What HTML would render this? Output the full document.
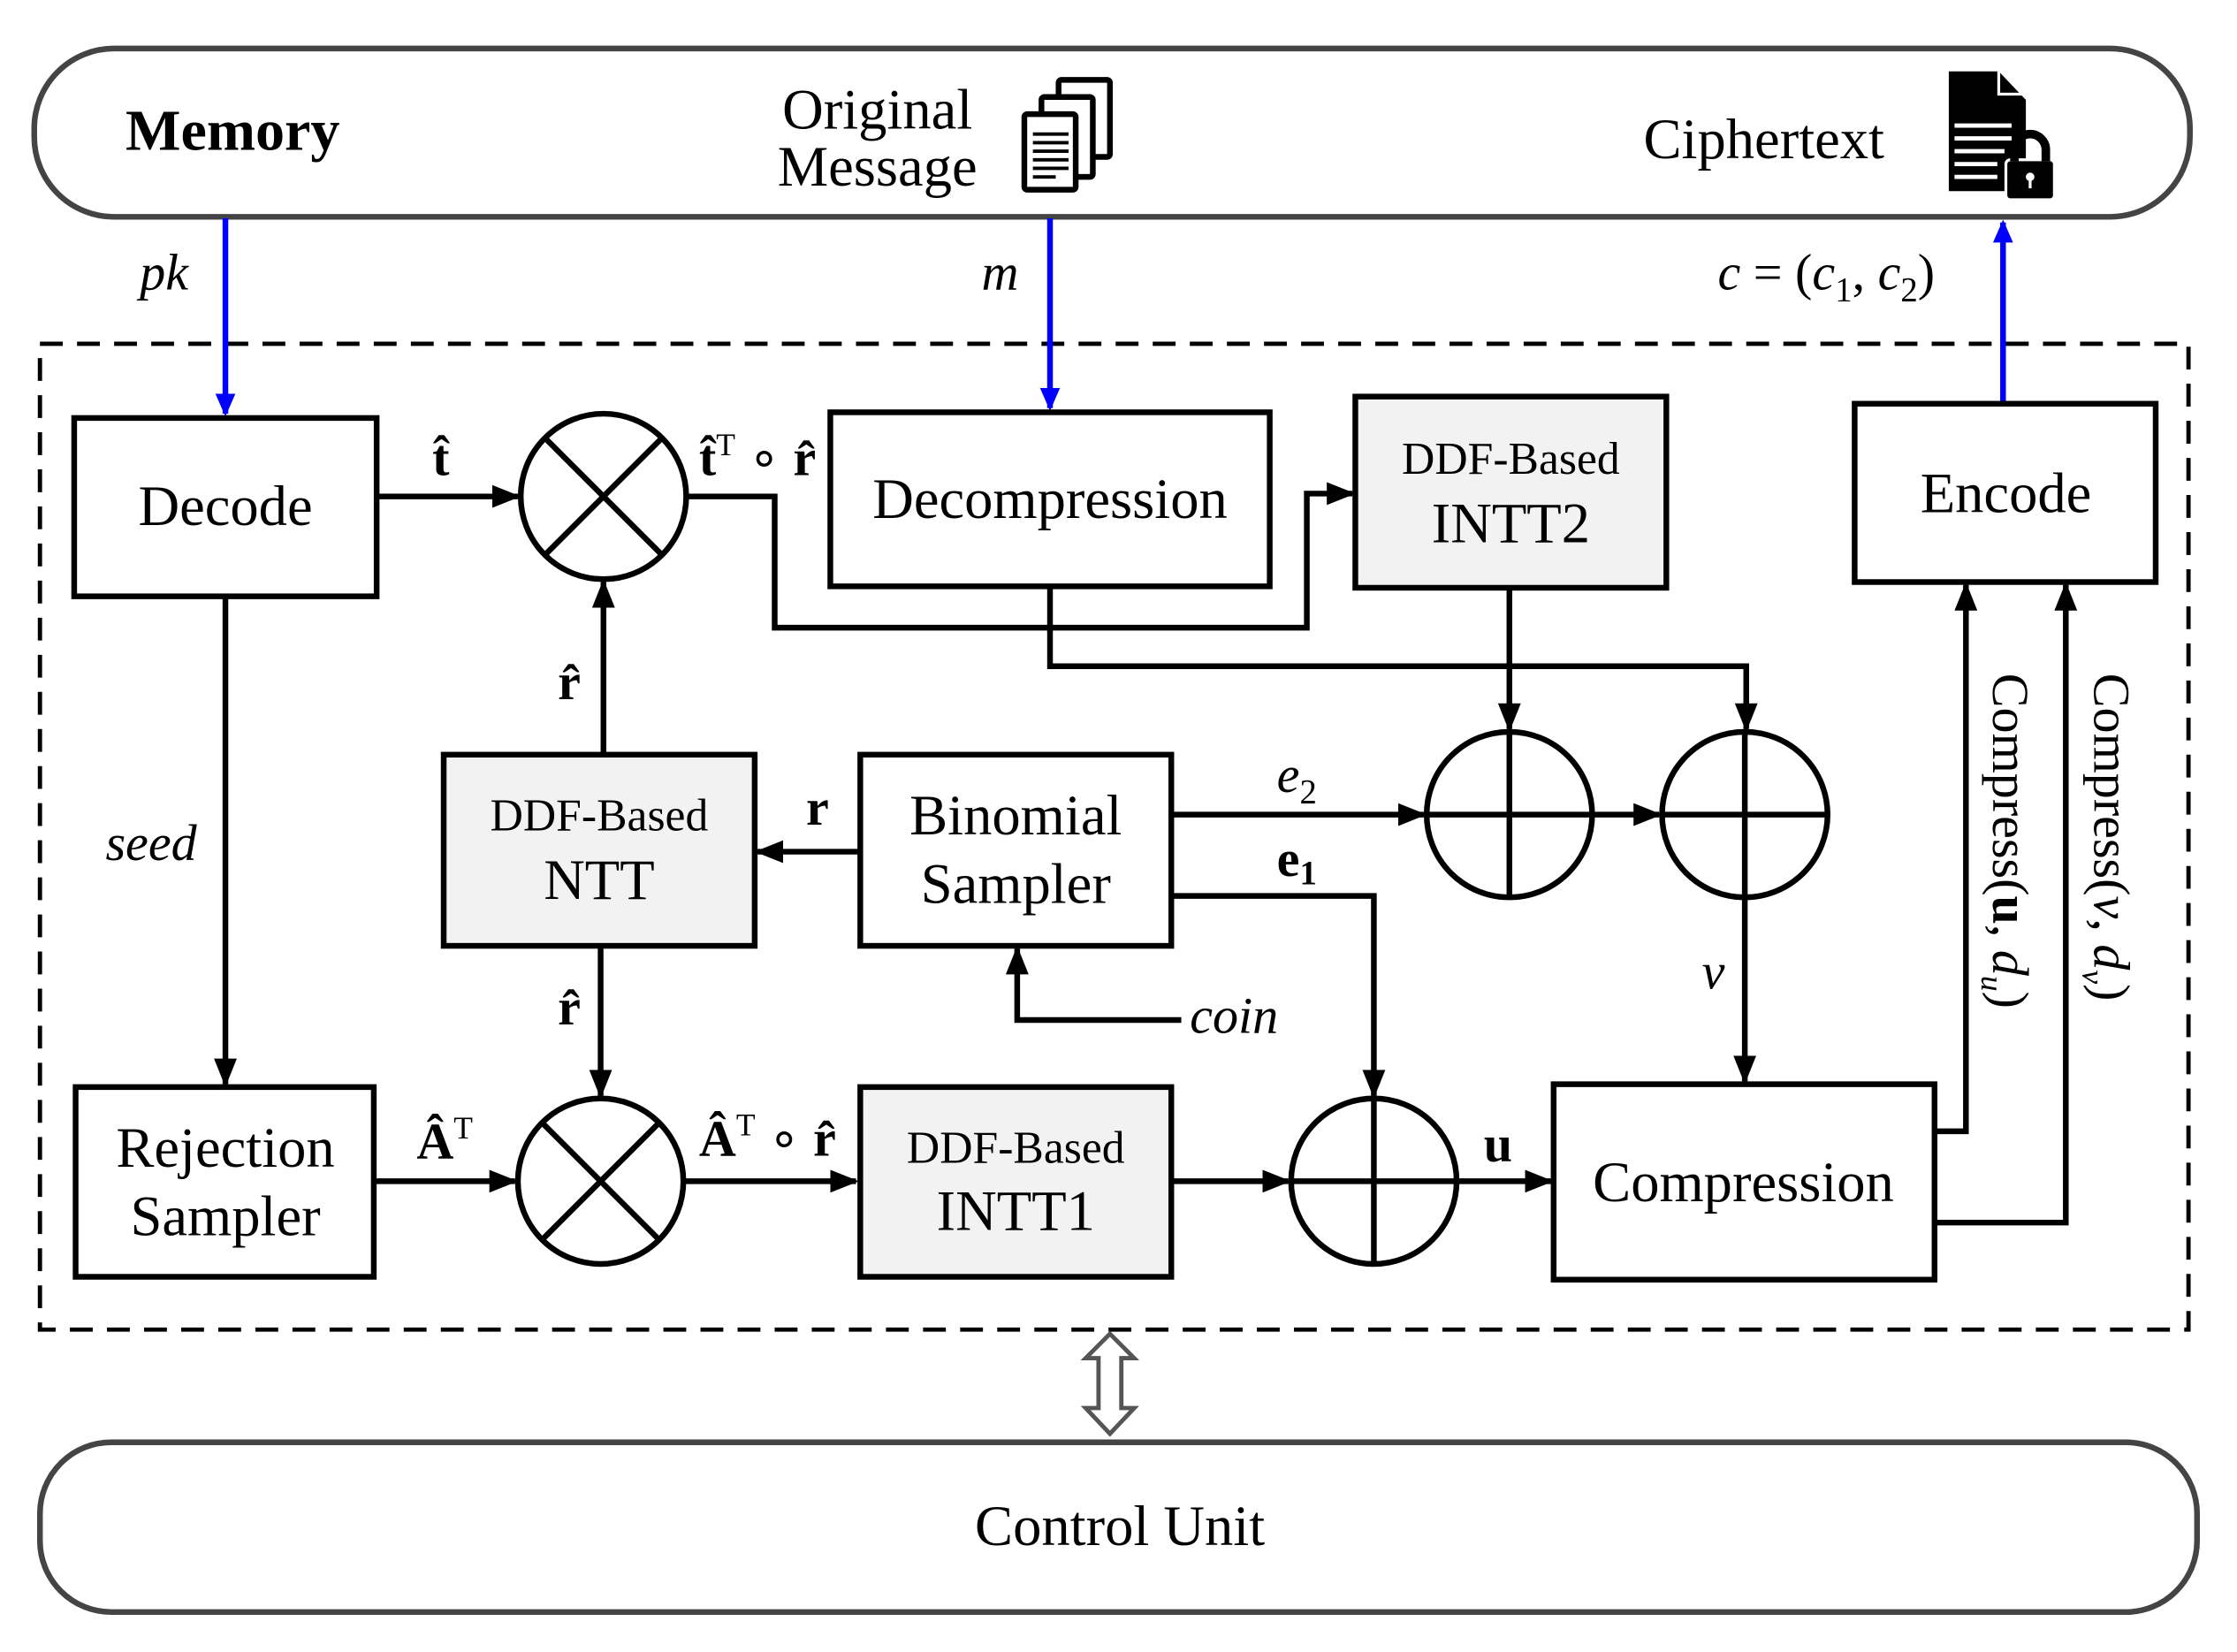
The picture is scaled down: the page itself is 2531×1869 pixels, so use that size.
<!DOCTYPE html>
<html><head><meta charset="utf-8"><style>
html,body{margin:0;padding:0;background:#fff;}
svg{display:block;}
text{font-family:"Liberation Serif",serif;fill:#000;}
</style></head><body>
<svg width="2531" height="1869" viewBox="0 0 1568 1158" preserveAspectRatio="none" xmlns="http://www.w3.org/2000/svg">
<defs>
<marker id="ab" markerWidth="16" markerHeight="16" refX="14" refY="8" orient="auto" markerUnits="userSpaceOnUse" viewBox="0 0 16 16"><path d="M0,1 L16,8 L0,15 z" fill="#00f"/></marker>
<marker id="ak" markerWidth="20" markerHeight="20" refX="18" refY="10" orient="auto" markerUnits="userSpaceOnUse" viewBox="0 0 20 20"><path d="M0,2 L20,10 L0,18 z" fill="#000"/></marker>
</defs>
<rect x="24" y="34" width="1511" height="118" rx="56" fill="#fff" stroke="#444" stroke-width="4"/>
<text x="88" y="105" font-size="41" font-weight="bold">Memory</text>
<text x="615" y="90" font-size="40" text-anchor="middle">Original</text>
<text x="615" y="130" font-size="40" text-anchor="middle">Message</text>
<g fill="#fff" stroke="#000" stroke-width="4">
<rect x="742" y="56" width="36" height="54" rx="2"/>
<rect x="730" y="68" width="36" height="56" rx="2"/>
<rect x="718" y="80" width="36" height="53" rx="2"/>
</g>
<g stroke="#000" stroke-width="2.4">
<line x1="724" y1="94" x2="749" y2="94"/><line x1="724" y1="100" x2="749" y2="100"/><line x1="724" y1="106" x2="749" y2="106"/><line x1="724" y1="112" x2="749" y2="112"/><line x1="724" y1="118" x2="749" y2="118"/><line x1="724" y1="124" x2="740" y2="124"/>
</g>
<text x="1152" y="111" font-size="40">Ciphertext</text>
<path d="M1366,50 L1401,50 L1420,70 L1420,134 L1366,134 z" fill="#000"/>
<path d="M1401,50 L1401,66 L1420,66" fill="none" stroke="#fff" stroke-width="2"/>
<g stroke="#fff" stroke-width="3"><line x1="1370" y1="97" x2="1410" y2="97"/><line x1="1370" y1="106" x2="1405" y2="106"/><line x1="1370" y1="115" x2="1400" y2="115"/><line x1="1370" y1="124" x2="1400" y2="124"/><line x1="1370" y1="88" x2="1410" y2="88"/></g>
<rect x="1406" y="112" width="34" height="28" rx="3" fill="#000" stroke="#fff" stroke-width="2"/>
<path d="M1412,113 v-8 a11,11 0 0 1 22,0 v8" fill="none" stroke="#000" stroke-width="6"/>
<circle cx="1423" cy="124" r="3" fill="#fff"/><rect x="1422" y="124" width="2" height="8" fill="#fff"/>
<rect x="28" y="241" width="1506" height="691" fill="none" stroke="#000" stroke-width="3" stroke-dasharray="16,10"/>
<rect x="28" y="1011" width="1512" height="119" rx="50" fill="#fff" stroke="#444" stroke-width="4"/>
<text x="785" y="1083" font-size="40" text-anchor="middle">Control Unit</text>
<path d="M778,935 L795,952 L786,952 L786,987 L795,987 L778,1005 L761,987 L770,987 L770,952 L761,952 z" fill="#fff" stroke="#555" stroke-width="3"/>
<g stroke="#00f" stroke-width="4" fill="none">
<line x1="158" y1="153" x2="158" y2="290" marker-end="url(#ab)"/>
<line x1="736" y1="153" x2="736" y2="286" marker-end="url(#ab)"/>
<line x1="1404" y1="282" x2="1404" y2="156" marker-end="url(#ab)"/>
</g>
<text x="98" y="203" font-size="36" font-style="italic">pk</text>
<text x="688" y="203" font-size="36" font-style="italic">m</text>
<text x="1204" y="203" font-size="36"><tspan font-style="italic">c</tspan> = (<tspan font-style="italic">c</tspan><tspan font-size="24" dy="8">1</tspan><tspan dy="-8">, </tspan><tspan font-style="italic">c</tspan><tspan font-size="24" dy="8">2</tspan><tspan dy="-8">)</tspan></text>
<g stroke="#000" stroke-width="4">
<rect x="52" y="293" width="212" height="125" fill="#fff"/>
<rect x="582" y="289" width="308" height="122" fill="#fff"/>
<rect x="950" y="278" width="218" height="134" fill="#f2f2f2"/>
<rect x="1300" y="283" width="211" height="125" fill="#fff"/>
<rect x="311" y="529" width="218" height="134" fill="#f2f2f2"/>
<rect x="603" y="529" width="218" height="134" fill="#fff"/>
<rect x="53" y="762" width="209" height="133" fill="#fff"/>
<rect x="603" y="762" width="218" height="133" fill="#f2f2f2"/>
<rect x="1089" y="760" width="267" height="137" fill="#fff"/>
</g>
<g font-size="40" text-anchor="middle">
<text x="158" y="368">Decode</text>
<text x="736" y="363">Decompression</text>
<text x="1059" y="332" font-size="32">DDF-Based</text>
<text x="1059" y="380">INTT2</text>
<text x="1406" y="359">Encode</text>
<text x="420" y="582" font-size="32">DDF-Based</text>
<text x="420" y="630">NTT</text>
<text x="712" y="585">Binomial</text>
<text x="712" y="633">Sampler</text>
<text x="158" y="818">Rejection</text>
<text x="158" y="866">Sampler</text>
<text x="712" y="815" font-size="32">DDF-Based</text>
<text x="712" y="862">INTT1</text>
<text x="1222" y="842">Compression</text>
</g>
<g stroke="#000" stroke-width="4" fill="#fff">
<circle cx="423" cy="348" r="58"/><circle cx="421" cy="828" r="58"/>
<circle cx="1058" cy="571" r="58"/><circle cx="1223" cy="571" r="58"/><circle cx="963" cy="828" r="58"/>
</g>
<g stroke="#000" stroke-width="4">
<line x1="382" y1="307" x2="464" y2="389"/><line x1="464" y1="307" x2="382" y2="389"/>
<line x1="380" y1="787" x2="462" y2="869"/><line x1="462" y1="787" x2="380" y2="869"/>
<line x1="1000" y1="571" x2="1116" y2="571"/><line x1="1058" y1="513" x2="1058" y2="629"/>
<line x1="1165" y1="571" x2="1281" y2="571"/><line x1="1223" y1="513" x2="1223" y2="629"/>
<line x1="905" y1="828" x2="1021" y2="828"/><line x1="963" y1="770" x2="963" y2="886"/>
</g>
<g stroke="#000" stroke-width="4" fill="none">
<line x1="264" y1="348" x2="363" y2="348" marker-end="url(#ak)"/>
<polyline points="481,348 543,348 543,440 916,440 916,346 948,346" marker-end="url(#ak)"/>
<polyline points="736,411 736,467 1224,467 1224,511" marker-end="url(#ak)"/>
<line x1="1058" y1="412" x2="1058" y2="511" marker-end="url(#ak)"/>
<line x1="1116" y1="571" x2="1163" y2="571" marker-end="url(#ak)"/>
<line x1="821" y1="571" x2="998" y2="571" marker-end="url(#ak)"/>
<polyline points="821,628 963,628 963,768" marker-end="url(#ak)"/>
<line x1="603" y1="597" x2="531" y2="597" marker-end="url(#ak)"/>
<line x1="423" y1="529" x2="423" y2="408" marker-end="url(#ak)"/>
<line x1="421" y1="663" x2="421" y2="768" marker-end="url(#ak)"/>
<polyline points="828,715 713,715 713,665" marker-end="url(#ak)"/>
<line x1="158" y1="418" x2="158" y2="760" marker-end="url(#ak)"/>
<line x1="262" y1="828" x2="361" y2="828" marker-end="url(#ak)"/>
<line x1="479" y1="828" x2="600" y2="828" marker-end="url(#ak)"/>
<line x1="821" y1="828" x2="903" y2="828" marker-end="url(#ak)"/>
<line x1="1021" y1="828" x2="1087" y2="828" marker-end="url(#ak)"/>
<line x1="1223" y1="629" x2="1223" y2="758" marker-end="url(#ak)"/>
<polyline points="1356,793 1378,793 1378,410" marker-end="url(#ak)"/>
<polyline points="1356,857 1448,857 1448,410" marker-end="url(#ak)"/>
</g>
<g font-size="36">
<text x="303" y="333" font-weight="bold">t̂</text>
<text x="490" y="333" font-weight="bold">t̂<tspan font-weight="normal" font-size="22" dy="-14">T</tspan><tspan font-weight="normal" dy="14"> ∘ </tspan>r̂</text>
<text x="391" y="490" font-weight="bold">r̂</text>
<text x="391" y="718" font-weight="bold">r̂</text>
<text x="565" y="578" font-weight="bold">r</text>
<text x="895" y="555" font-style="italic">e<tspan font-size="24" font-style="normal" dy="8">2</tspan></text>
<text x="895" y="614" font-weight="bold">e<tspan font-size="24" dy="6">1</tspan></text>
<text x="834" y="724" font-style="italic">coin</text>
<text x="74" y="603" font-style="italic">seed</text>
<text x="1193" y="693" font-style="italic">v</text>
<text x="292" y="812" font-weight="bold">Â<tspan font-weight="normal" font-size="22" dy="-14">T</tspan></text>
<text x="490" y="810" font-weight="bold">Â<tspan font-weight="normal" font-size="22" dy="-14">T</tspan><tspan font-weight="normal" dy="14"> ∘ </tspan>r̂</text>
<text x="1040" y="814" font-weight="bold">u</text>
</g>
<text transform="translate(1397,472) rotate(90)" font-size="36">Compress(<tspan font-weight="bold">u</tspan>, <tspan font-style="italic">d</tspan><tspan font-style="italic" font-size="22" dy="8">u</tspan><tspan dy="-8">)</tspan></text>
<text transform="translate(1468,472) rotate(90)" font-size="36">Compress(<tspan font-style="italic">v</tspan>, <tspan font-style="italic">d</tspan><tspan font-style="italic" font-size="22" dy="8">v</tspan><tspan dy="-8">)</tspan></text>
</svg>
</body></html>
